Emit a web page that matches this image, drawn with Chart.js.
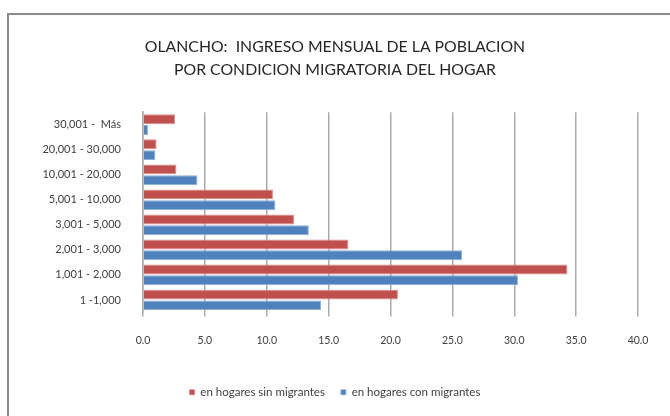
<!DOCTYPE html>
<html>
<head>
<meta charset="utf-8">
<script src="https://cdn.jsdelivr.net/npm/chart.js@4"></script>
<style>
  html, body { margin: 0; padding: 0; background: #fff; }
  #wrap { position: relative; width: 670px; height: 416px; overflow: hidden; }
  #frame { position: absolute; left: 7px; top: 13px; width: 700px; height: 500px;
           border-left: 2px solid #8c8c8c; border-top: 2px solid #8c8c8c; }
  canvas { position: absolute; left: 0; top: 0; }
</style>
</head>
<body>
<div id="wrap">
  <div id="frame"></div>
  <canvas id="ingresoChart" width="670" height="416"></canvas>
</div>
<script>
/******************************************************************
DATA
******************************************************************/
var titleLines = ["OLANCHO:  INGRESO MENSUAL DE LA POBLACION", "POR CONDICION MIGRATORIA DEL HOGAR"];
var categories = ["30,001 -  Más", "20,001 - 30,000", "10,001 - 20,000", "5,001 - 10,000",
                  "3,001 - 5,000", "2,001 - 3,000", "1,001 - 2,000", "1 -1,000"];
var sinMigrantes = [2.6, 1.1, 2.7, 10.5, 12.2, 16.6, 34.3, 20.6];
var conMigrantes = [0.4, 1.0, 4.4, 10.7, 13.4, 25.8, 30.3, 14.4];
var seriesNames = ["en hogares sin migrantes", "en hogares con migrantes"];
var xTicks = [0, 5, 10, 15, 20, 25, 30, 35, 40];

/******************************************************************
CHART
******************************************************************/
var font = "Lato, 'Open Sans', sans-serif";
var ctx = document.getElementById('ingresoChart').getContext('2d');
var chart = new Chart(ctx, {
  type: 'bar',
  data: {
    labels: categories,
    datasets: [{
      label: seriesNames[0],
      data: sinMigrantes,
      backgroundColor: '#C0504D',
      borderColor: '#d98c8a',
      borderWidth: 1
    }, {
      label: seriesNames[1],
      data: conMigrantes,
      backgroundColor: '#4F81BD',
      borderColor: '#8fb0d8',
      borderWidth: 1
    }]
  },
  options: {
    indexAxis: 'y',
    responsive: false,
    animation: false,
    devicePixelRatio: 1,
    layout: { padding: { left: 32, right: 32, top: 0, bottom: 8 } },
    datasets: { bar: { categoryPercentage: 0.86, barPercentage: 0.92 } },
    scales: {
      x: {
        min: 0,
        max: 40,
        afterBuildTicks: function (scale) {
          scale.ticks = xTicks.map(function (v) { return { value: v }; });
        },
        afterFit: function (scale) { scale.height = 58; },
        ticks: {
          padding: 18,
          color: '#404040',
          font: { family: font, size: 10.5 },
          callback: function (v) { return Number(v).toFixed(1); }
        },
        grid: { color: '#ababab', lineWidth: 1.5, tickLength: 4, drawTicks: true },
        border: { display: false }
      },
      y: {
        afterFit: function (scale) { scale.width = 111; },
        ticks: {
          padding: 14,
          color: '#404040',
          font: { family: font, size: 11 }
        },
        grid: { display: false },
        border: { display: true, color: '#ababab', width: 1.5 }
      }
    },
    plugins: {
      title: {
        display: true,
        text: titleLines,
        color: '#262626',
        font: { family: font, size: 15.8, weight: 'normal', lineHeight: 1.46 },
        padding: { top: 35, bottom: 31 }
      },
      legend: {
        position: 'bottom',
        labels: {
          color: '#404040',
          font: { family: font, size: 11.5 },
          usePointStyle: true,
          pointStyle: 'rect',
          boxWidth: 5,
          boxHeight: 5,
          padding: 16
        }
      },
      tooltip: { enabled: false }
    }
  }
});
</script>
</body>
</html>
